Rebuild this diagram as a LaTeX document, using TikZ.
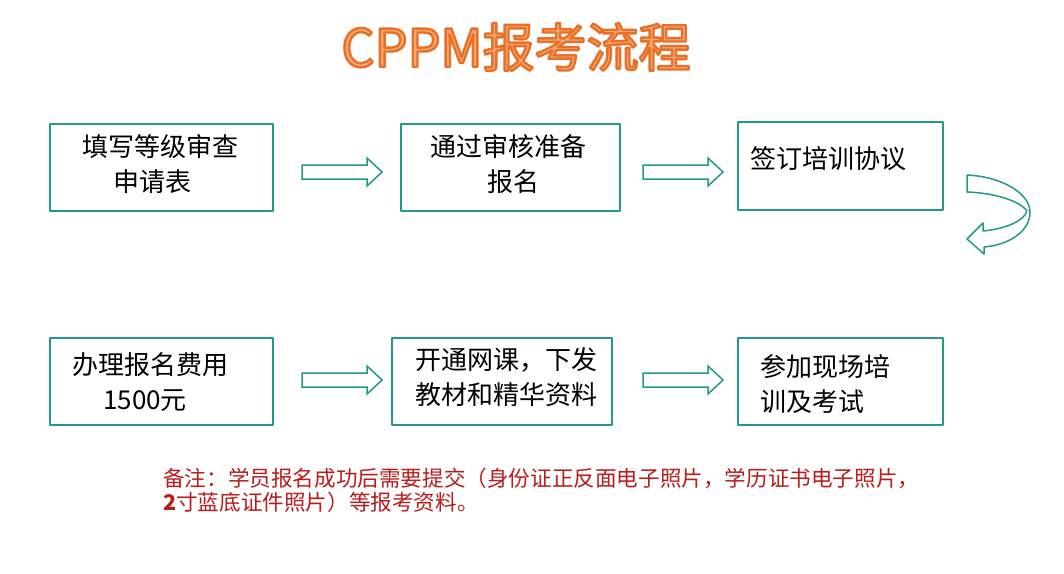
\documentclass[tikz,border=0pt]{standalone}
\usepackage{fontspec}
\setmainfont{Liberation Sans}
\newfontfamily\cjk{Noto Sans CJK SC}
\definecolor{boxteal}{RGB}{36,152,142}
\definecolor{titlefill}{RGB}{246,168,112}
\definecolor{notered}{RGB}{186,28,28}
% outlined title text: fill and stroke, stroke in dark orange
\newcommand{\outlinetext}[1]{\special{pdf:literal direct 0.91 0.44 0.16 RG 2 Tr 2.4 w}#1\special{pdf:literal direct 0 Tr}}
\tikzset{
  stepbox/.style={draw=boxteal,line width=2pt,fill=white,inner sep=0pt},
  boxtext/.style={anchor=north west,align=left,inner sep=0pt,font=\cjk\fontsize{26}{35}\selectfont},
  flowarrow/.pic={
    \draw[boxteal,line width=1.5pt,line join=miter]
      (-40,-7) -- (25,-7) -- (25,-14) -- (40,0) -- (25,14) -- (25,7) -- (-40,7) -- cycle;
  }
}
\begin{document}
\begin{tikzpicture}[x=1pt,y=-1pt,line cap=round,line join=round]
  \useasboundingbox[fill=white] (0,0) rectangle (1064,573);
  % title
  \node[text=titlefill,font=\cjk\fontsize{52}{58}\selectfont] (title) at (516,47) {\outlinetext{CPPM报考流程}};
  % top row
  \node[stepbox,minimum width=223pt,minimum height=87pt] (apply) at (161.5,167.5) {};
  \node[stepbox,minimum width=219pt,minimum height=87pt] (check) at (510.5,167.5) {};
  \node[stepbox,minimum width=205pt,minimum height=88pt] (sign) at (840.5,166) {};
  \node[boxtext] (applytxt) at (82,134) {填写等级审查\\\hspace*{31pt}申请表};
  \node[boxtext] (checktxt) at (430,134) {通过审核准备\\\hspace*{57pt}报名};
  \node[boxtext] (signtxt) at (750,146) {签订培训协议};
  % bottom row
  \node[stepbox,minimum width=223pt,minimum height=87pt] (pay) at (161.5,381.5) {};
  \node[stepbox,minimum width=220pt,minimum height=87pt] (course) at (502,381.5) {};
  \node[stepbox,minimum width=205pt,minimum height=87pt] (train) at (840.5,381.5) {};
  \node[boxtext] (paytxt) at (72,352) {办理报名费用\\\hspace*{31pt}1500元};
  \node[boxtext] (coursetxt) at (415,347) {开通网课，下发\\教材和精华资料};
  \node[boxtext] (traintxt) at (760,354) {参加现场培\\训及考试};
  % arrows
  \pic at (342,172) {flowarrow};
  \pic at (683,172) {flowarrow};
  \pic at (342,380) {flowarrow};
  \pic at (683,380) {flowarrow};
  \draw[boxteal,line width=1.5pt]
    (967,175) .. controls (1005,177) and (1030,195) .. (1030,212)
    .. controls (1030,232) and (1008,245) .. (984,247)
    -- (984,254) -- (967,239) -- (983,223) -- (983,231)
    .. controls (1005,229) and (1024,221) .. (1027,211)
    .. controls (1020,201) and (995,193) .. (967,192) -- cycle;
  % note
  \node[anchor=north west,align=left,inner sep=0pt,text=notered,
        font=\cjk\fontsize{21.6}{24}\selectfont] (note) at (163,468)
    {备注：学员报名成功后需要提交（身份证正反面电子照片，学历证书电子照片，\\\textbf{2}寸蓝底证件照片）等报考资料。};
\end{tikzpicture}
\end{document}
